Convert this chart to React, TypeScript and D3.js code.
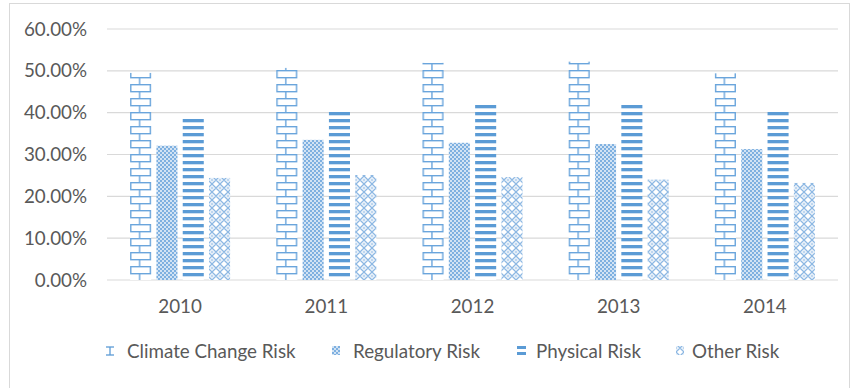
import React from "react";
import * as d3 from "d3";

const years = ["2010", "2011", "2012", "2013", "2014"];
const seriesNames = ["Climate Change Risk", "Regulatory Risk", "Physical Risk", "Other Risk"];
const climate = [0.495, 0.507, 0.519, 0.522, 0.494];
const regulatory = [0.321, 0.335, 0.328, 0.325, 0.313];
const physical = [0.39, 0.402, 0.419, 0.421, 0.405];
const other = [0.244, 0.251, 0.246, 0.24, 0.232];
const yTicks = [0, 0.1, 0.2, 0.3, 0.4, 0.5, 0.6];

const BLUE = "#5B9BD5";
const TEXT = "#595959";
const FONT = "Lato, 'Open Sans', sans-serif";
const FS = 18.8;

export default function App() {
  const W = 852, H = 388;
  const x = d3.scaleBand().domain(years).range([107, 838]);
  const inner = d3.scaleBand().domain(seriesNames).range([0, 100]).paddingInner(0.2);
  const y = d3.scaleLinear().domain([0, 0.6]).range([280, 29]);
  const values = [climate, regulatory, physical, other];
  const bw = inner.bandwidth();
  const fmt = d3.format(".2%");

  const bars: JSX.Element[] = [];
  const defs: JSX.Element[] = [];
  years.forEach((yr, i) => {
    const gx = (x(yr) as number) + (x.bandwidth() - 100) / 2;
    seriesNames.forEach((s, j) => {
      const bx = gx + (inner(s) as number);
      const v = values[j][i];
      const top = y(v);
      let fill = "";
      if (j === 0) {
        const id = `brick-${i}`;
        defs.push(
          <pattern key={id} id={id} patternUnits="userSpaceOnUse" x={bx} y={0} width={bw} height={14}>
            <rect width={bw} height={14} fill="#fff" />
            <g stroke="#6aa5dc" strokeWidth={1.4}>
              <line x1={0} x2={bw} y1={0.7} y2={0.7} />
              <line x1={0} x2={bw} y1={7.7} y2={7.7} />
              <line x1={0.7} x2={0.7} y1={0} y2={7} />
              <line x1={bw - 0.7} x2={bw - 0.7} y1={0} y2={7} />
              <line x1={bw * 0.45} x2={bw * 0.45} y1={7} y2={14} />
            </g>
          </pattern>
        );
        fill = `url(#${id})`;
      } else if (j === 1) fill = "url(#reg)";
      else if (j === 2) fill = "url(#phys)";
      else fill = "url(#oth)";
      bars.push(
        <rect key={`${yr}-${s}`} x={bx} y={top} width={bw} height={y(0) - top} fill={fill} />
      );
    });
  });

  const legendItems = [
    { name: seriesNames[0], mx: 106, tx: 127 },
    { name: seriesNames[1], mx: 332, tx: 353 },
    { name: seriesNames[2], mx: 517, tx: 536 },
    { name: seriesNames[3], mx: 676, tx: 692 },
  ];

  return (
    <svg width={W} height={H} style={{ position: "absolute", left: 0, top: 0, background: "#fff" }} fontFamily={FONT}>
      <defs>
        <pattern id="reg" patternUnits="userSpaceOnUse" width={4} height={4}>
          <rect width={4} height={4} fill="#d2e3f4" />
          <rect x={0} y={0} width={2} height={2} fill="#7eb0e0" />
          <rect x={2} y={2} width={2} height={2} fill="#7eb0e0" />
        </pattern>
        <pattern id="phys" patternUnits="userSpaceOnUse" width={8} height={7}>
          <rect width={8} height={7} fill="#fff" />
          <rect x={0} y={0} width={8} height={3.3} fill={BLUE} />
        </pattern>
        <pattern id="oth" patternUnits="userSpaceOnUse" width={8} height={8}>
          <rect width={8} height={8} fill="#fff" />
          <path d="M0,4 L4,0 L8,4 L4,8 Z" fill="none" stroke="#8db8e3" strokeWidth={1.3} />
          <line x1={4} x2={4} y1={2.5} y2={5.5} stroke="#a9c9ea" strokeWidth={1} />
          <line x1={2.5} x2={5.5} y1={4} y2={4} stroke="#a9c9ea" strokeWidth={1} />
        </pattern>
        {defs}
      </defs>
      <rect x={9.5} y={3.5} width={840} height={400} fill="#fff" stroke="#d9d9d9" />
      {yTicks.map((t) => (
        <g key={t}>
          <line x1={107} x2={838} y1={y(t)} y2={y(t)} stroke="#d9d9d9" strokeWidth={1.2} />
          <text x={87} y={y(t) + 6.5} textAnchor="end" fontSize={FS} fill={TEXT}>
            {fmt(t)}
          </text>
        </g>
      ))}
      {bars}
      {years.map((yr) => (
        <text key={yr} x={(x(yr) as number) + x.bandwidth() / 2} y={313} textAnchor="middle" fontSize={FS} fill={TEXT}>
          {yr}
        </text>
      ))}
      {legendItems.map((it, j) => (
        <g key={it.name}>
          {j === 0 && (
            <g stroke={BLUE} strokeWidth={1.3}>
              <line x1={106} x2={114} y1={347} y2={347} />
              <line x1={106} x2={114} y1={355} y2={355} />
              <line x1={110} x2={110} y1={347} y2={355} />
            </g>
          )}
          {j === 1 && <rect x={it.mx} y={346} width={8} height={9} fill="url(#reg)" />}
          {j === 2 && (
            <g fill={BLUE}>
              <rect x={it.mx} y={346} width={9} height={3} />
              <rect x={it.mx} y={352} width={9} height={3} />
            </g>
          )}
          {j === 3 && <rect x={it.mx} y={346} width={8} height={9} fill="url(#oth)" />}
          <text x={it.tx} y={357.5} fontSize={FS} fill={TEXT}>
            {it.name}
          </text>
        </g>
      ))}
    </svg>
  );
}
